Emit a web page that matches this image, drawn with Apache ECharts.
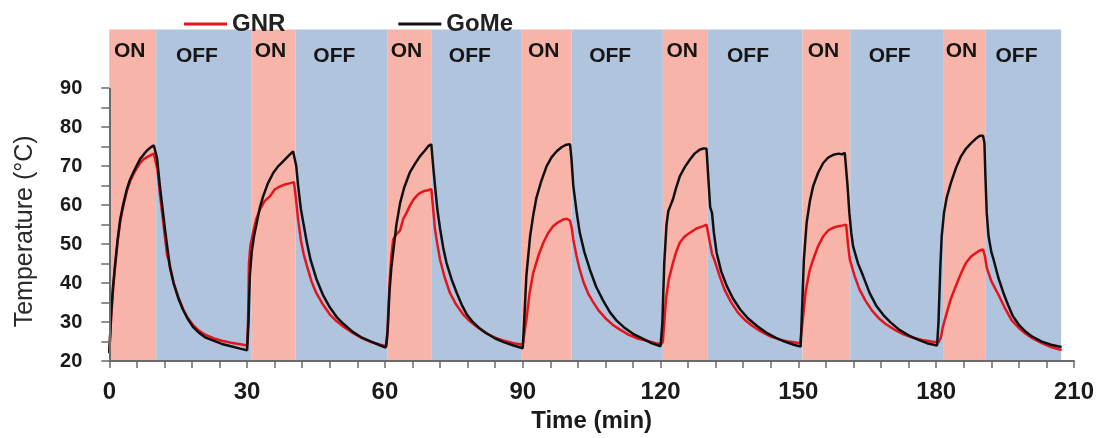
<!DOCTYPE html>
<html><head><meta charset="utf-8">
<script src="https://cdn.jsdelivr.net/npm/echarts@6/dist/echarts.min.js"></script>
<style>html,body{margin:0;padding:0;background:#fff}#c{width:1102px;height:438px}</style>
</head><body><div id="c"></div>
<script>
// ---- data ----
const xTickLabels = [0, 30, 60, 90, 120, 150, 180, 210];
const yTickLabels = [20, 30, 40, 50, 60, 70, 80, 90];
const yTickMarks = [20, 25, 30, 35, 40, 45, 50, 55, 60, 65, 70, 75, 80, 85, 90];
const seriesNames = ['GNR', 'GoMe'];
const bandEdges = [0, 10.2, 31.0, 40.5, 60.5, 70.2, 89.8, 100.6, 120.5, 130.2, 150.9, 161.3, 181.5, 190.8, 207.2];
const bandLabels = ['ON', 'OFF', 'ON', 'OFF', 'ON', 'OFF', 'ON', 'OFF', 'ON', 'OFF', 'ON', 'OFF', 'ON', 'OFF'];
const bandBottom = 20, bandTop = 105;

const gnrData = [
  [0,22.5],[0.4,31],[0.8,38],[1.2,43.5],[1.8,50.5],[2.4,56],[3.0,59.5],[3.8,63.5],[4.5,66],[5.2,67.8],[6.0,69.5],[6.7,70.8],[7.5,71.8],[8.2,72.3],[9.0,72.8],[9.7,73.2],[10.1,73.4],
  [10.5,69],[11.0,63],[11.6,57],[12.1,52],[12.6,47],[12.9,46],[13.3,44],[14.0,40],[15.0,36.5],[16.0,33.5],[17.0,31.2],[18.2,29.3],[19.5,27.8],[21,26.7],[22.8,25.8],[24.5,25.2],[26.5,24.7],[28.5,24.3],[30.0,24],
  [30.2,30],[30.4,45],[30.7,49.5],[31.3,53],[32.0,56.5],[32.8,58.9],[33.8,61],[35.0,62.3],[36.0,64],[37.0,64.7],[38.0,65.2],[39.0,65.5],[39.7,65.7],[40.2,65.9],
  [40.6,62],[41.1,56.3],[41.7,51],[42.3,47.5],[43.0,44.5],[44.0,40.5],[45.0,37.6],[46.5,34.5],[48,32],[49.5,30.2],[51,28.8],[53,27.2],[55,25.9],[57,24.9],[59,24.2],[60.3,23.8],
  [60.5,26],[61.0,40],[61.4,47],[61.8,51.2],[62.5,52.5],[63.3,53.5],[64.0,56.5],[64.7,58],[65.5,60],[66.2,61.4],[67.0,62.5],[67.6,63.1],[68.5,63.6],[69.4,63.8],[70.1,64.1],
  [70.5,59],[70.9,53.8],[71.4,50],[72.0,46],[73.0,41.5],[74.1,37.6],[75.5,34.5],[77,32],[78.5,30.2],[80,28.8],[82,27.2],[84,26],[86,25.2],[88,24.6],[90,24.2],
  [90.3,24.5],[90.8,30.7],[91.5,37.5],[92.3,42.7],[93.4,47],[94.5,50.4],[95.5,52.8],[96.6,54.6],[97.7,55.6],[98.8,56.3],[99.6,56.5],[100.3,56],[100.7,54],
  [101.0,51.2],[101.7,47],[102.4,43.5],[103.3,40],[104.3,37.2],[105.3,35.2],[106.5,33],[108,31],[109.5,29.4],[111,28.2],[113,26.8],[115,25.8],[117,25.2],[119,24.6],[120.2,24.4],
  [120.5,25],[120.8,30],[121.2,36],[121.8,41],[122.7,45.2],[123.4,48],[124.2,50.4],[125.3,52],[126.4,52.9],[127.8,54],[129.3,54.6],[130.0,55],[130.4,54.5],
  [130.8,50],[131.2,47.5],[131.7,46],[132.8,42],[133.9,38.4],[135.3,35.2],[136.8,32.5],[138.5,30.4],[140,29],[142,27.5],[144,26.3],[146,25.5],[148,25],[150.4,24.6],
  [150.6,25],[151,31],[151.6,38],[152.4,43],[153.2,46],[154.3,49.5],[155.4,52],[156.5,53.5],[157.6,54.2],[158.7,54.6],[159.7,54.8],[160.4,55],
  [160.8,50],[161.2,46],[162.2,42],[163.3,38.4],[164.6,35.5],[166,33],[167.5,31],[169,29.5],[171,28],[173,26.8],[175,26],[177,25.4],[179,25],[180.5,24.8],
  [181,26],[181.5,29],[182.2,32],[183.2,36],[184.3,39.3],[185.4,42.5],[186.5,45.2],[187.6,46.8],[188.7,47.8],[189.5,48.4],[190.2,48.6],[190.6,47],
  [191,44],[192,40.5],[193.7,36.7],[195,33.5],[196.4,30.5],[198,28.5],[199.5,27],[201,25.8],[203,24.6],[205,23.6],[206.5,23.1],[207.3,22.8]
];

const gomeData = [
  [0,22],[0.4,32],[0.8,39],[1.2,44],[1.8,51],[2.4,56.5],[3.0,60],[3.8,64],[4.5,66.5],[5.2,68.3],[6.0,70.2],[6.7,71.8],[7.5,73],[8.2,74],[9.0,74.8],[9.7,75.3],[10.1,75.6],
  [10.4,72],[11.0,65],[11.6,59],[12.1,54],[12.7,48.5],[13.2,44],[14.0,40],[15.0,36.2],[16.0,33.3],[17.0,31],[18.2,28.8],[19.5,27.3],[21.0,26],[22.8,25.2],[24.5,24.4],[26.5,23.8],[28.5,23.2],[30.0,22.8],
  [30.3,30],[30.6,42],[31.0,48],[31.5,52],[32.1,55.5],[32.8,59.5],[33.5,62.3],[34.5,65.5],[35.7,68.3],[36.8,70],[37.9,71.3],[39.0,72.6],[40.0,73.8],[40.4,74],
  [40.7,70],[41.1,65],[41.7,59],[42.3,55],[43.0,50.5],[43.8,46],[45.1,41],[46.5,37],[48.0,33.8],[49.5,31.3],[51,29.5],[53,27.5],[55,26],[57,25],[59,24],[60.2,23.5],
  [60.6,28],[61.0,38],[61.4,44],[61.8,48],[62.5,55],[63.3,60.5],[64.2,64.5],[65.4,68.3],[66.5,70.5],[67.6,72.5],[68.7,74],[69.5,75.2],[70.1,75.6],
  [70.5,70],[70.9,65],[71.4,59],[72.0,54],[72.7,49],[73.4,45.2],[74.5,41],[75.6,37.6],[76.7,34.5],[77.8,32],[79,30.2],[80.5,28.5],[82,27.2],[84,25.8],[86,24.8],[88,24],[90,23.3],
  [90.3,30],[90.8,42],[91.6,52],[92.3,57.5],[93.0,62],[94.0,66],[95.2,70],[96.3,72.3],[97.4,73.8],[98.5,74.9],[99.5,75.5],[100.3,75.6],
  [100.6,72],[101.0,65],[101.7,58.5],[102.4,53],[103.4,48],[104.6,43.5],[106,39],[107.5,35.5],[109,32.5],[110.5,30.3],[112,28.7],[114,27],[116,25.8],[118,24.6],[120,23.8],
  [120.4,30],[120.8,45],[121.3,55],[121.7,58.5],[122.2,60],[122.7,61.5],[123.4,64.5],[124.2,67.4],[125.3,69.8],[126.4,71.7],[127.4,73.2],[128.5,74.2],[129.3,74.5],[130.0,74.5],[130.3,74.2],
  [130.5,65],[130.8,59.5],[131.2,58],[131.6,53],[132.2,47.8],[133.2,43],[134.4,39.3],[135.8,36],[137.3,33.3],[139,31],[141,29],[143,27.3],[145,26],[147,25],[149,24.2],[150.5,23.7],
  [150.7,30],[151.2,46],[151.8,55.5],[152.5,61],[153.2,64.8],[154.3,68.3],[155.4,70.8],[156.5,72.2],[157.6,72.9],[158.8,73.2],[159.5,73],[160.1,73.4],[160.5,73.2],
  [160.7,65],[161.1,58],[161.5,53],[161.9,49.5],[163.0,45],[164.1,41.8],[165.5,37.5],[167,34.1],[168.5,31.8],[170,30],[172,28],[174,26.6],[176,25.5],[178,24.6],[180.2,24],
  [180.5,30],[180.9,44],[181.2,52],[181.7,58],[182.3,62],[183.2,65.7],[184.3,69.5],[185.4,72.5],[186.5,74.5],[187.6,75.9],[188.6,77],[189.5,77.8],[190.2,77.8],[190.5,76],
  [190.7,68],[191.0,58],[191.4,52],[192.0,48],[192.5,46],[193.5,41.5],[194.6,37.6],[195.6,34.5],[196.7,31.5],[198,29.3],[199.5,27.5],[201,26.2],[203,25],[205,24.2],[206.5,23.8],[207.3,23.6]
];

// ---- styles ----
const FONT = 'Liberation Sans, Arial, sans-serif';
const AXIS_COLOR = '#6b6b6b';
const ON_COLOR = '#F8B4A9';
const OFF_COLOR = '#B0C4DE';
const RED = '#E8141C';
const BLACK = '#111111';

const bands = [];
for (let i = 0; i < bandLabels.length; i++) {
  const on = bandLabels[i] === 'ON';
  bands.push([
    {
      name: bandLabels[i], xAxis: bandEdges[i], yAxis: bandBottom,
      itemStyle: { color: on ? ON_COLOR : OFF_COLOR },
      label: { position: 'insideTop', distance: on ? 11 : 16, offset: [on ? -3 : -7, 0] }
    },
    { xAxis: bandEdges[i + 1], yAxis: bandTop }
  ]);
}

const chart = echarts.init(document.getElementById('c'), null, { renderer: 'canvas' });
chart.setOption({
  animation: false,
  backgroundColor: '#fff',
  legend: {
    data: seriesNames,
    left: 179, top: 7,
    icon: 'rect',
    itemWidth: 43, itemHeight: 3, itemGap: 113,
    textStyle: { fontFamily: FONT, fontWeight: 'bold', fontSize: 24, color: '#222' }
  },
  grid: { left: 109.3, right: 28, top: 29.6, bottom: 76 },
  xAxis: {
    type: 'value', min: 0, max: 210, interval: 30, z: 5,
    axisLine: { lineStyle: { color: AXIS_COLOR, width: 2 } },
    axisTick: { length: 7, lineStyle: { color: AXIS_COLOR, width: 1.5 } },
    minorTick: { show: true, splitNumber: 5, length: 7, lineStyle: { color: AXIS_COLOR, width: 1.5 } },
    splitLine: { show: false },
    axisLabel: { margin: 19, fontFamily: FONT, fontSize: 24, fontWeight: 'bold', color: '#1a1a1a' },
    name: 'Time (min)', nameLocation: 'middle', nameGap: 38,
    nameTextStyle: { fontFamily: FONT, fontSize: 24, fontWeight: 'bold', color: '#1a1a1a' }
  },
  yAxis: {
    type: 'value', min: 20, max: 105, interval: 5, z: 5,
    axisLine: { show: false },
    axisTick: { show: true, length: 8, customValues: yTickMarks, lineStyle: { color: AXIS_COLOR, width: 1.5 } },
    splitLine: { show: false },
    axisLabel: { margin: 27, customValues: yTickLabels, fontFamily: FONT, fontSize: 20, fontWeight: 'bold', color: '#1a1a1a' },
    name: 'Temperature (°C)', nameLocation: 'middle', nameGap: 72,
    nameTextStyle: { fontFamily: FONT, fontSize: 25, color: '#2a2a2a', padding: [0, 72, 0, 0] }
  },
  series: [
    {
      name: seriesNames[0], type: 'line', data: gnrData, showSymbol: false, symbol: 'none',
      lineStyle: { color: RED, width: 2.5 }, itemStyle: { color: RED },
      markArea: {
        silent: true,
        label: { show: true, fontFamily: FONT, fontSize: 21, fontWeight: 'bold', color: '#151515' },
        data: bands
      }
    },
    {
      name: seriesNames[1], type: 'line', data: gomeData, showSymbol: false, symbol: 'none',
      lineStyle: { color: BLACK, width: 2.5 }, itemStyle: { color: BLACK },
      markLine: {
        silent: true, symbol: ['none', 'none'], label: { show: false },
        lineStyle: { color: AXIS_COLOR, width: 2, type: 'solid' },
        emphasis: { disabled: true },
        data: [[{ coord: [0, 20] }, { coord: [0, 90] }]]
      }
    }
  ]
});
</script>
</body></html>
